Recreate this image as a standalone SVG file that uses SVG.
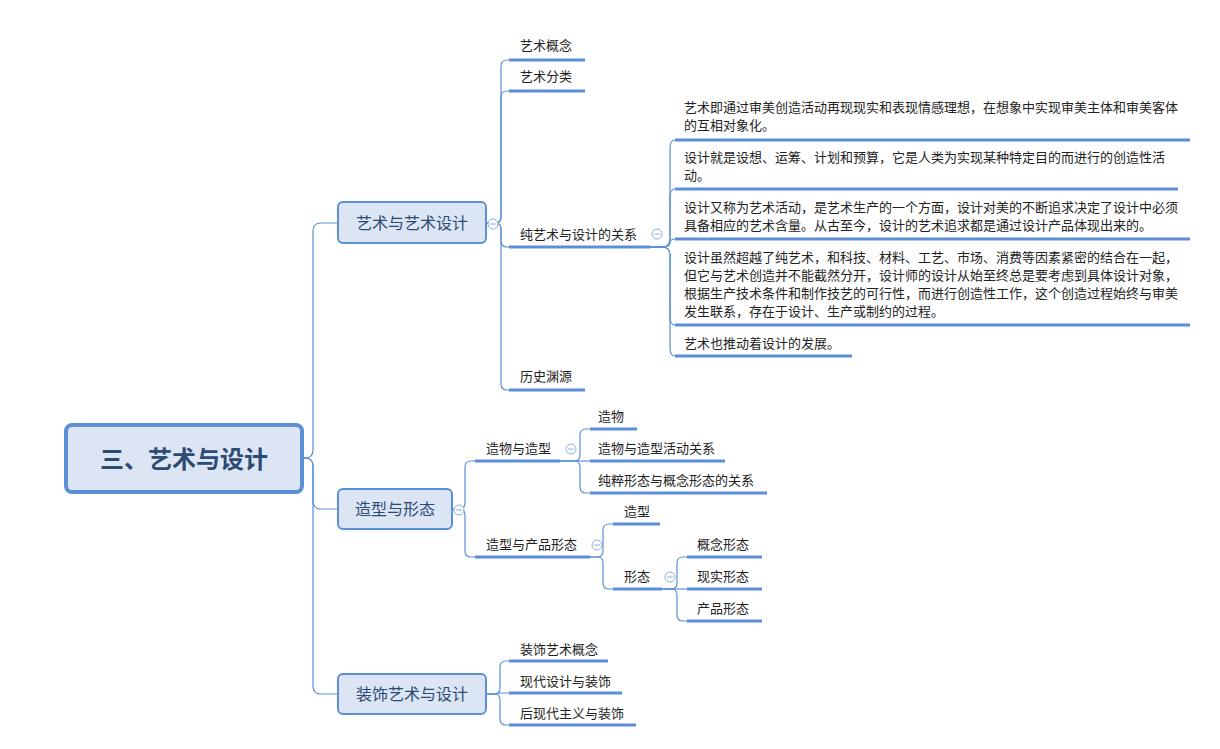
<svg xmlns="http://www.w3.org/2000/svg" width="1220" height="749" viewBox="0 0 1220 749">
<style>
text{font-family:"Noto Sans CJK SC","Noto Sans CJK TC",sans-serif;fill:#222}
.t{font-size:13px}
.m{font-size:16px;fill:#2d4a73;text-anchor:middle}
.box{fill:#dbe5f3;stroke:#5b8fd6;stroke-width:2}
.ul{stroke:#5b8fd6;stroke-width:3}
#connectors path{fill:none;stroke:#5b8fd6;stroke-width:1.2}
.c{fill:#fff;stroke:#8aaee0;stroke-width:1}
</style>
<rect width="1220" height="749" fill="#fff"/>
<g id="connectors">
<path d="M302 458 H305 Q313 458 313 450 V231 Q313 223 321 223 H338"/>
<path d="M302 458 H305 Q313 458 313 466 V501 Q313 509 321 509 H338"/>
<path d="M302 458 H305 Q313 458 313 466 V686 Q313 694 321 694 H338"/>
<path d="M486 223 H495 Q501 223 501 217 V66 Q501 60 507 60 H509"/>
<path d="M486 223 H495 Q501 223 501 217 V97 Q501 91 507 91 H509"/>
<path d="M486 223 H495 Q501 223 501 229 V241 Q501 247 507 247 H509"/>
<path d="M486 223 H495 Q501 223 501 229 V384 Q501 390 507 390 H509"/>
<path d="M650 247 H662 Q670 247 670 239 V148 Q670 140 675 140"/>
<path d="M650 247 H662 Q670 247 670 239 V197 Q670 189 675 189"/>
<path d="M650 247 H662 Q670 247 670 243 Q670 239 675 239"/>
<path d="M650 247 H662 Q670 247 670 255 V317 Q670 325 675 325"/>
<path d="M650 247 H662 Q670 247 670 255 V348 Q670 356 675 356"/>
<path d="M452 509 H459 Q465 509 465 503 V467 Q465 461 471 461 H475"/>
<path d="M452 509 H459 Q465 509 465 515 V551 Q465 557 471 557 H475"/>
<path d="M560 461 H574 Q580 461 580 455 V435 Q580 429 586 429 H590"/>
<path d="M560 461 H590"/>
<path d="M560 461 H574 Q580 461 580 467 V487 Q580 493 586 493 H590"/>
<path d="M590 557 H597 Q603 557 603 551 V530 Q603 524 609 524 H613"/>
<path d="M590 557 H597 Q603 557 603 563 V583 Q603 589 609 589 H613"/>
<path d="M662 589 H671 Q677 589 677 583 V563 Q677 557 683 557 H687"/>
<path d="M662 589 H687"/>
<path d="M662 589 H671 Q677 589 677 595 V615 Q677 621 683 621 H687"/>
<path d="M486 694 H494 Q500 694 500 688 V667 Q500 661 506 661 H509"/>
<path d="M486 694 H494 Q500 694 500 693 H509"/>
<path d="M486 694 H494 Q500 694 500 700 V719 Q500 725 506 725 H509"/>
</g>
<g id="root"><rect x="66" y="425" width="236" height="67" rx="6" fill="#dbe5f3" stroke="#5b8fd6" stroke-width="4"/><text x="184" y="468" style="font-size:24px;font-weight:bold;fill:#2d4a73;text-anchor:middle">三、艺术与设计</text></g>
<g id="n1"><rect class="box" x="338" y="202" width="148" height="41" rx="5"/><text class="m" x="412" y="229">艺术与艺术设计</text></g>
<g id="n2"><rect class="box" x="338" y="489" width="114" height="40" rx="5"/><text class="m" x="395" y="515">造型与形态</text></g>
<g id="n3"><rect class="box" x="338" y="674" width="148" height="40" rx="5"/><text class="m" x="412" y="700">装饰艺术与设计</text></g>
<g id="leaves">
<g id="l1"><text class="t" x="520" y="50">艺术概念</text><line class="ul" x1="509" y1="60" x2="585" y2="60"/></g>
<g id="l2"><text class="t" x="520" y="81">艺术分类</text><line class="ul" x1="509" y1="91" x2="585" y2="91"/></g>
<g id="l3"><text class="t" x="520" y="239">纯艺术与设计的关系</text><line class="ul" x1="509" y1="247" x2="650" y2="247"/></g>
<g id="l4"><text class="t" x="520" y="381">历史渊源</text><line class="ul" x1="509" y1="390" x2="585" y2="390"/></g>
<g id="p1"><text class="t" x="684" y="112">艺术即通过审美创造活动再现现实和表现情感理想，在想象中实现审美主体和审美客体</text><text class="t" x="684" y="130">的互相对象化。</text><line class="ul" x1="675" y1="140" x2="1190" y2="140"/></g>
<g id="p2"><text class="t" x="684" y="162">设计就是设想、运筹、计划和预算，它是人类为实现某种特定目的而进行的创造性活</text><text class="t" x="684" y="180">动。</text><line class="ul" x1="675" y1="189" x2="1178" y2="189"/></g>
<g id="p3"><text class="t" x="684" y="212">设计又称为艺术活动，是艺术生产的一个方面，设计对美的不断追求决定了设计中必须</text><text class="t" x="684" y="230">具备相应的艺术含量。从古至今，设计的艺术追求都是通过设计产品体现出来的。</text><line class="ul" x1="675" y1="239" x2="1190" y2="239"/></g>
<g id="p4"><text class="t" x="684" y="262">设计虽然超越了纯艺术，和科技、材料、工艺、市场、消费等因素紧密的结合在一起，</text><text class="t" x="684" y="280">但它与艺术创造并不能截然分开，设计师的设计从始至终总是要考虑到具体设计对象，</text><text class="t" x="684" y="298">根据生产技术条件和制作技艺的可行性，而进行创造性工作，这个创造过程始终与审美</text><text class="t" x="684" y="316">发生联系，存在于设计、生产或制约的过程。</text><line class="ul" x1="675" y1="325" x2="1190" y2="325"/></g>
<g id="p5"><text class="t" x="684" y="348">艺术也推动着设计的发展。</text><line class="ul" x1="675" y1="356" x2="852" y2="356"/></g>
<g id="s1"><text class="t" x="486" y="453">造物与造型</text><line class="ul" x1="475" y1="461" x2="560" y2="461"/></g>
<g id="s2"><text class="t" x="486" y="549">造型与产品形态</text><line class="ul" x1="475" y1="557" x2="590" y2="557"/></g>
<g id="e1"><text class="t" x="598" y="421">造物</text><line class="ul" x1="590" y1="429" x2="637" y2="429"/></g>
<g id="e2"><text class="t" x="598" y="453">造物与造型活动关系</text><line class="ul" x1="590" y1="461" x2="725" y2="461"/></g>
<g id="e3"><text class="t" x="598" y="485">纯粹形态与概念形态的关系</text><line class="ul" x1="590" y1="493" x2="767" y2="493"/></g>
<g id="f1"><text class="t" x="624" y="516">造型</text><line class="ul" x1="613" y1="524" x2="660" y2="524"/></g>
<g id="f2"><text class="t" x="624" y="581">形态</text><line class="ul" x1="613" y1="589" x2="662" y2="589"/></g>
<g id="g1"><text class="t" x="697" y="549">概念形态</text><line class="ul" x1="687" y1="557" x2="762" y2="557"/></g>
<g id="g2"><text class="t" x="697" y="581">现实形态</text><line class="ul" x1="687" y1="589" x2="762" y2="589"/></g>
<g id="g3"><text class="t" x="697" y="613">产品形态</text><line class="ul" x1="687" y1="621" x2="762" y2="621"/></g>
<g id="h1"><text class="t" x="520" y="654">装饰艺术概念</text><line class="ul" x1="509" y1="661" x2="608" y2="661"/></g>
<g id="h2"><text class="t" x="520" y="686">现代设计与装饰</text><line class="ul" x1="509" y1="693" x2="622" y2="693"/></g>
<g id="h3"><text class="t" x="520" y="718">后现代主义与装饰</text><line class="ul" x1="509" y1="725" x2="636" y2="725"/></g>
</g>
<g id="collapse" stroke="#8aaee0">
<circle class="c" cx="493" cy="224" r="5"/><line x1="490" y1="224" x2="496" y2="224"/>
<circle class="c" cx="657" cy="234" r="5"/><line x1="654" y1="234" x2="660" y2="234"/>
<circle class="c" cx="459" cy="510" r="5"/><line x1="456" y1="510" x2="462" y2="510"/>
<circle class="c" cx="571" cy="449" r="5"/><line x1="568" y1="449" x2="574" y2="449"/>
<circle class="c" cx="597" cy="545" r="5"/><line x1="594" y1="545" x2="600" y2="545"/>
<circle class="c" cx="670" cy="577" r="5"/><line x1="667" y1="577" x2="673" y2="577"/>
</g>
</svg>
